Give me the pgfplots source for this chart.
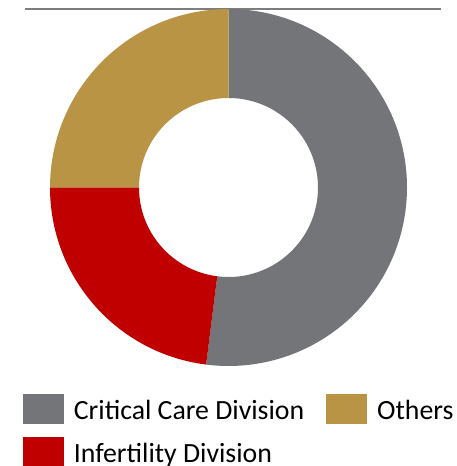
\documentclass[border=0pt]{standalone}
\usepackage{pgfplots}
\usepackage{pgfplotstable}
\pgfplotsset{compat=1.18}
\usepackage{fontspec}
\setmainfont{Carlito}

\definecolor{critgray}{RGB}{116,117,121}
\definecolor{infred}{RGB}{192,0,0}
\definecolor{othgold}{RGB}{185,148,68}
\definecolor{rulegray}{RGB}{125,125,125}

% shares in percent, drawn clockwise from 12 o'clock
\pgfplotstableread{
division value
Critical 52.0
Infertility 23.0
Others 25.0
}\shares

\begin{document}
\begin{tikzpicture}
\pgfplotstablegetelem{0}{value}\of\shares \pgfmathsetmacro\vcrit{\pgfplotsretval}
\pgfplotstablegetelem{1}{value}\of\shares \pgfmathsetmacro\vinf{\pgfplotsretval}
\pgfplotstablegetelem{2}{value}\of\shares \pgfmathsetmacro\voth{\pgfplotsretval}
\pgfmathsetmacro\aA{90}
\pgfmathsetmacro\aB{\aA-3.6*\vcrit}
\pgfmathsetmacro\aC{\aB-3.6*\vinf}
\pgfmathsetmacro\aD{\aC-3.6*\voth}
\def\Rout{178.5pt}
\def\Rin{89.5pt}

\begin{axis}[at={(0,0)}, anchor=south west, scale only axis,
  x=1pt, y=1pt, xmin=0, xmax=457, ymin=0, ymax=466,
  hide axis, clip=false,
  legend columns=2,
  legend style={at={(axis cs:23,72)}, anchor=north west,
    draw=none, fill=none, inner sep=0pt, outer sep=0pt,
    font=\fontsize{27.8}{33}\selectfont, row sep=14pt,
    nodes={inner sep=0pt}, cells={anchor=base west},
    /tikz/every odd column/.style={column sep=10.5pt},
    /tikz/every even column/.style={column sep=22pt}},
  legend image code/.code={\fill[#1] (0pt,-3.7pt) rectangle (40pt,25.3pt);},
]
\addplot[rulegray, line width=2.2pt, forget plot] coordinates {(25,457) (441,457)};

\fill[critgray, shift={(axis cs:228.5,278.5)}]
  (\aA:\Rout) arc[start angle=\aA, end angle=\aB, radius=\Rout]
  -- (\aB:\Rin) arc[start angle=\aB, end angle=\aA, radius=\Rin] -- cycle;
\fill[infred, shift={(axis cs:228.5,278.5)}]
  (\aB:\Rout) arc[start angle=\aB, end angle=\aC, radius=\Rout]
  -- (\aC:\Rin) arc[start angle=\aC, end angle=\aB, radius=\Rin] -- cycle;
\fill[othgold, shift={(axis cs:228.5,278.5)}]
  (\aC:\Rout) arc[start angle=\aC, end angle=\aD, radius=\Rout]
  -- (\aD:\Rin) arc[start angle=\aD, end angle=\aC, radius=\Rin] -- cycle;

\addlegendimage{critgray}
\addlegendentry{Critical Care Division}
\addlegendimage{othgold}
\addlegendentry{Others}
\addlegendimage{infred}
\addlegendentry{Infertility Division}
\end{axis}
\pgfresetboundingbox
\useasboundingbox (0,0) rectangle (457pt,466pt);
\end{tikzpicture}
\end{document}
